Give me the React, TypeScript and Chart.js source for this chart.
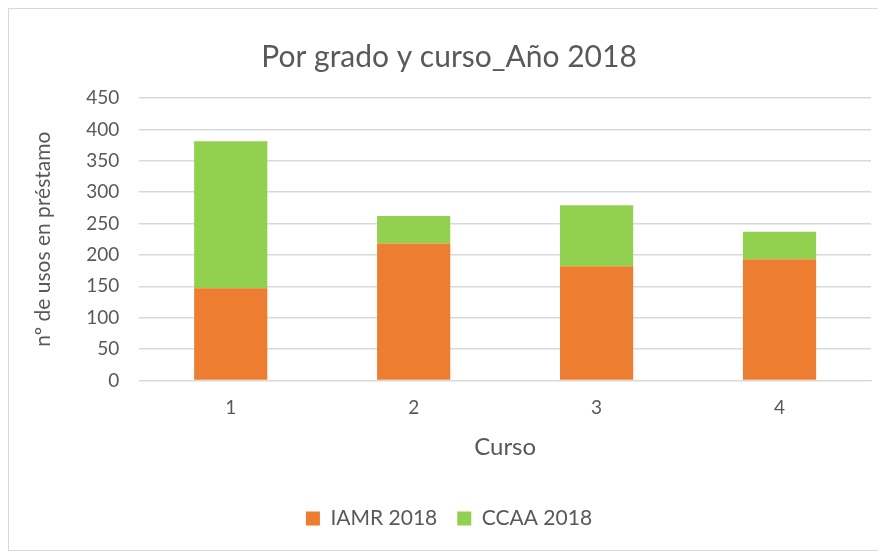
import React, { useEffect, useRef } from "react";
import { Chart, registerables } from "chart.js";

Chart.register(...registerables);

const categories = ["1", "2", "3", "4"];
const iamr2018 = [147, 218, 182, 193];
const ccaa2018 = [234, 44, 97, 44];
const yTicks = [0, 50, 100, 150, 200, 250, 300, 350, 400, 450];

const FONT = "Lato, 'Open Sans', sans-serif";
const GRAY = "#595959";

export default function App() {
  const ref = useRef<HTMLCanvasElement>(null);
  useEffect(() => {
    if (!ref.current) return;
    const chart = new Chart(ref.current, {
      type: "bar",
      data: {
        labels: categories,
        datasets: [
          { label: "IAMR 2018", data: iamr2018, backgroundColor: "#ED7D31", categoryPercentage: 1, barPercentage: 0.4 },
          { label: "CCAA 2018", data: ccaa2018, backgroundColor: "#92D050", categoryPercentage: 1, barPercentage: 0.4 },
        ],
      },
      options: {
        animation: false,
        responsive: false,
        maintainAspectRatio: false,
        layout: { padding: { left: 18, right: 8, top: 10, bottom: 11 } },
        plugins: {
          title: {
            display: true,
            text: "Por grado y curso_Año 2018",
            color: GRAY,
            font: { family: FONT, size: 30, weight: "normal" },
            padding: { top: 20, bottom: 23 },
          },
          legend: {
            position: "bottom",
            labels: {
              color: GRAY,
              font: { family: FONT, size: 21 },
              boxWidth: 14,
              boxHeight: 14,
              padding: 20,
            },
          },
          tooltip: { enabled: false },
        },
        scales: {
          x: {
            stacked: true,
            grid: { display: false },
            border: { color: "#d9d9d9" },
            ticks: { color: GRAY, font: { family: FONT, size: 19 }, padding: 8 },
            title: { display: true, text: "Curso", color: GRAY, font: { family: FONT, size: 24 }, padding: { top: 6, bottom: 26 } },
          },
          y: {
            stacked: true,
            min: 0,
            max: 450,
            afterBuildTicks: (axis: any) => {
              axis.ticks = yTicks.map((v) => ({ value: v }));
            },
            grid: { color: "#d9d9d9", lineWidth: 1.5, drawTicks: false },
            border: { display: false },
            ticks: { color: GRAY, font: { family: FONT, size: 19 }, padding: 20 },
            title: { display: true, text: "nº de usos en préstamo", color: GRAY, font: { family: FONT, size: 21 }, padding: { bottom: 10 } },
          },
        },
      } as any,
    });
    return () => chart.destroy();
  }, []);
  return (
    <div style={{ width: 872, height: 543, border: "1px solid #d9d9d9", boxSizing: "border-box", background: "#fff" }}>
      <canvas ref={ref} width={870} height={541} />
    </div>
  );
}
